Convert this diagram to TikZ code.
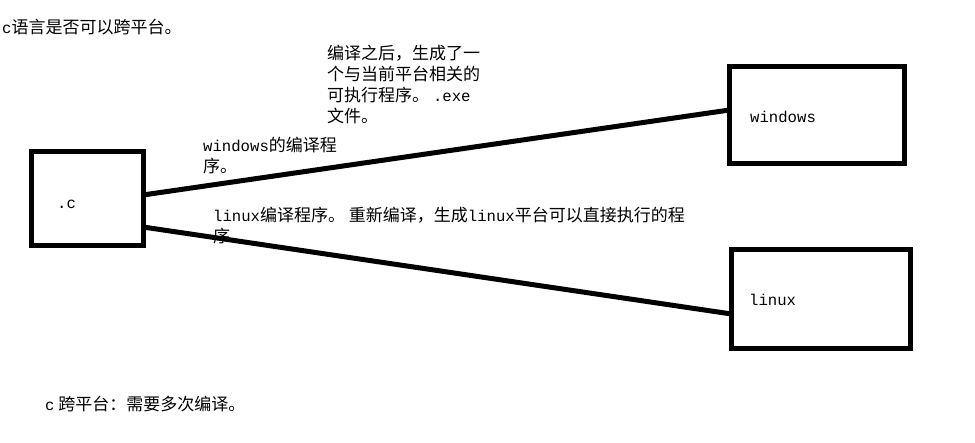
\documentclass[tikz,border=0pt]{standalone}
\usepackage{fontspec}
\setmainfont{Noto Sans CJK SC}
\newfontfamily\lat[Scale=0.92]{Liberation Mono}
\tikzset{
  box/.style={draw, line width=5pt, inner sep=0pt, outer sep=0pt},
  conn/.style={line width=5pt},
  txt/.style={anchor=base west, inner sep=0pt, align=left, font=\fontsize{17}{21}\selectfont},
}
\begin{document}
\begin{tikzpicture}[x=1pt,y=-1pt]
\useasboundingbox[fill=white] (0,0) rectangle (975,443);
\node[box, minimum width=111.5pt, minimum height=94pt] (c) at (87.25,198.5) {};
\node[box, minimum width=175pt, minimum height=97pt] (win) at (817,115) {};
\node[box, minimum width=179pt, minimum height=99pt] (lin) at (821,299) {};
\draw[conn] ([yshift=3.5pt]c.east) -- ([yshift=5pt]win.west);
\draw[conn] ([yshift=-28.5pt]c.east) -- ([yshift=-15pt]lin.west);
\node[txt] (title) at (2,34) {{\lat c}语言是否可以跨平台。};
\node[txt] (exe) at (327,123) {编译之后，生成了一\\个与当前平台相关的\\可执行程序。 {\lat .exe}\\文件。};
\node[txt] (wc) at (203,173) {{\lat windows}的编译程\\序。};
\node[txt] (lc) at (213,243) {{\lat linux}编译程序。 重新编译，生成{\lat linux}平台可以直接执行的程\\序};
\node[txt] (ctext) at (57,209) {\lat .c};
\node[txt] (wtext) at (750,123) {\lat windows};
\node[txt] (ltext) at (749,306) {\lat linux};
\node[txt] (bottom) at (45,411) {{\lat c} 跨平台：需要多次编译。};
\end{tikzpicture}
\end{document}
